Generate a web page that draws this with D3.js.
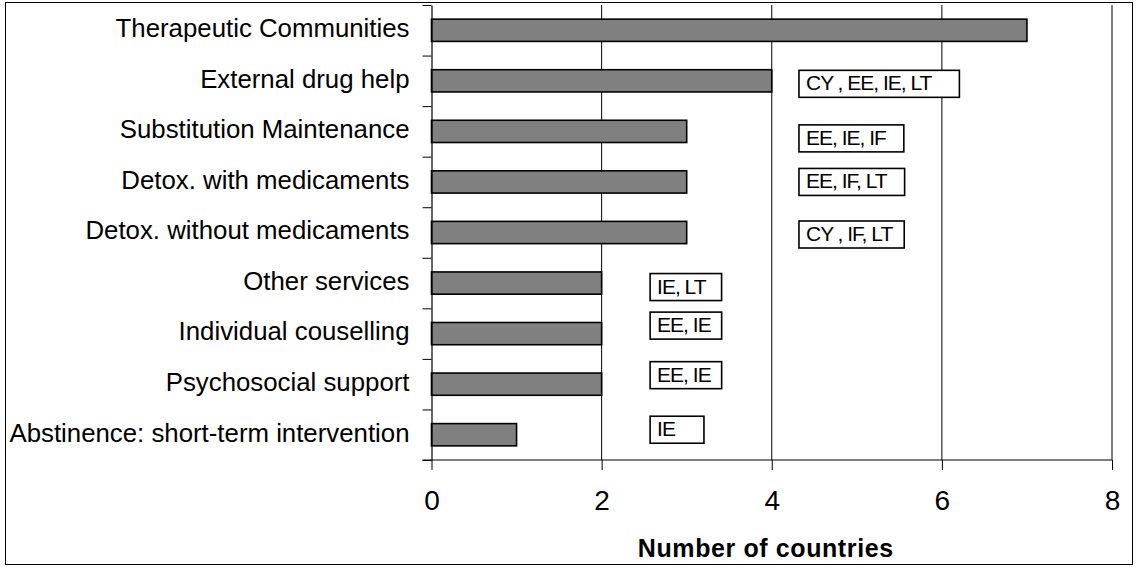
<!DOCTYPE html>
<html>
<head>
<meta charset="utf-8">
<script src="https://cdn.jsdelivr.net/npm/d3@7"></script>
<style>
  html, body { margin: 0; padding: 0; background: #fff; }
  svg { display: block; font-family: "Liberation Sans", Arial, sans-serif; }
</style>
</head>
<body>
<svg id="chart" width="1136" height="567"></svg>
<script>
// Treatment types and number of countries offering each
const categories = [
  "Therapeutic Communities",
  "External drug help",
  "Substitution Maintenance",
  "Detox. with medicaments",
  "Detox. without medicaments",
  "Other services",
  "Individual couselling",
  "Psychosocial support",
  "Abstinence: short-term intervention"
];
const countryCounts = [7, 4, 3, 3, 3, 2, 2, 2, 1];
// Country codes listed beside each bar
const countryNotes = ["", "CY , EE, IE, LT", "EE, IE, IF", "EE, IF, LT", "CY , IF, LT", "IE, LT", "EE, IE", "EE, IE", "IE"];
const xTicks = [0, 2, 4, 6, 8];
const xTitle = "Number of countries";

// Layout
const W = 1136, H = 567;
const plot = { left: 431.5, right: 1112, top: 5, bottom: 460 };
// where each note box starts (axis units), its small vertical nudge and right padding (px)
const noteStart = [null, 4.32, 4.32, 4.32, 4.32, 2.57, 2.57, 2.57, 2.57];
const noteNudge = [0, 3, 7, 0, 2, 4, -8, -9, -5];
const noteRightPad = [0, 28, 18, 18, 12, 16, 11, 11, 29];

const svg = d3.select("#chart");

// outer frame
svg.append("rect")
  .attr("x", 5.5).attr("y", 2.5)
  .attr("width", 1127).attr("height", 562)
  .attr("fill", "#fff").attr("stroke", "#000").attr("stroke-width", 1);

const x = d3.scaleLinear().domain([0, 8]).range([plot.left, plot.right]);
const y = d3.scaleBand().domain(categories)
  .range([plot.top, plot.bottom])
  .paddingInner(0.56).paddingOuter(0.28);
const yEdges = d3.scaleLinear().domain([0, categories.length]).range([plot.top, plot.bottom]);

// vertical gridlines
svg.append("g").selectAll("line")
  .data(xTicks.filter(d => d > 0))
  .join("line")
  .attr("x1", d => x(d)).attr("x2", d => x(d))
  .attr("y1", plot.top).attr("y2", plot.bottom)
  .attr("stroke", "#000").attr("stroke-width", 1);

// bars
svg.append("g").selectAll("rect")
  .data(categories)
  .join("rect")
  .attr("x", x(0))
  .attr("y", d => y(d))
  .attr("width", (d, i) => x(countryCounts[i]) - x(0))
  .attr("height", y.bandwidth())
  .attr("fill", "#808080")
  .attr("stroke", "#000")
  .attr("stroke-width", 1.6);

// y axis: ticks at band boundaries
const yAxis = svg.append("g")
  .attr("transform", `translate(${plot.left},0)`)
  .call(d3.axisLeft(yEdges).tickValues(d3.range(0, categories.length + 1)).tickFormat("").tickSize(9).tickSizeOuter(0));
yAxis.select(".domain").attr("stroke", "#000").attr("stroke-width", 1.2);
yAxis.selectAll(".tick line").attr("stroke", "#000").attr("stroke-width", 1);

// category labels
svg.append("g").selectAll("text")
  .data(categories)
  .join("text")
  .attr("x", plot.left - 22)
  .attr("y", d => y(d) + y.bandwidth() / 2)
  .attr("text-anchor", "end")
  .attr("dominant-baseline", "middle")
  .attr("font-size", 25.8)
  .attr("fill", "#000")
  .text(d => d);

// x axis
const xAxis = svg.append("g")
  .attr("transform", `translate(0,${plot.bottom})`)
  .call(d3.axisBottom(x).tickValues(xTicks).tickSize(10).tickSizeOuter(0).tickPadding(20));
xAxis.select(".domain").remove();
xAxis.append("line")
  .attr("x1", plot.left - 9).attr("x2", plot.right)
  .attr("stroke", "#000").attr("stroke-width", 1.2);
xAxis.selectAll(".tick line").attr("stroke", "#000").attr("stroke-width", 1);
xAxis.selectAll(".tick text")
  .attr("font-size", 28)
  .attr("font-family", "'Liberation Sans', Arial, sans-serif")
  .attr("fill", "#000");

svg.append("text")
  .attr("x", (plot.left + plot.right) / 2 - 6)
  .attr("y", 557)
  .attr("text-anchor", "middle")
  .attr("font-size", 25)
  .attr("letter-spacing", 0.6)
  .attr("font-weight", "bold")
  .attr("fill", "#000")
  .text(xTitle);

// note boxes with country codes
const notes = svg.append("g");
countryNotes.forEach((txt, i) => {
  if (!txt) return;
  const cy = y(categories[i]) + y.bandwidth() / 2 + noteNudge[i];
  const bx = x(noteStart[i]);
  const g = notes.append("g");
  const rect = g.append("rect");
  const t = g.append("text")
    .attr("x", bx + 7)
    .attr("y", cy + 1)
    .attr("dominant-baseline", "middle")
    .attr("font-size", 21)
    .attr("letter-spacing", -1)
    .attr("fill", "#000")
    .text(txt);
  const tw = t.node().getComputedTextLength();
  rect.attr("x", bx).attr("y", cy - 13.5)
    .attr("width", tw + 7 + noteRightPad[i]).attr("height", 27)
    .attr("fill", "#fff").attr("stroke", "#000").attr("stroke-width", 1.6);
});
</script>
</body>
</html>
